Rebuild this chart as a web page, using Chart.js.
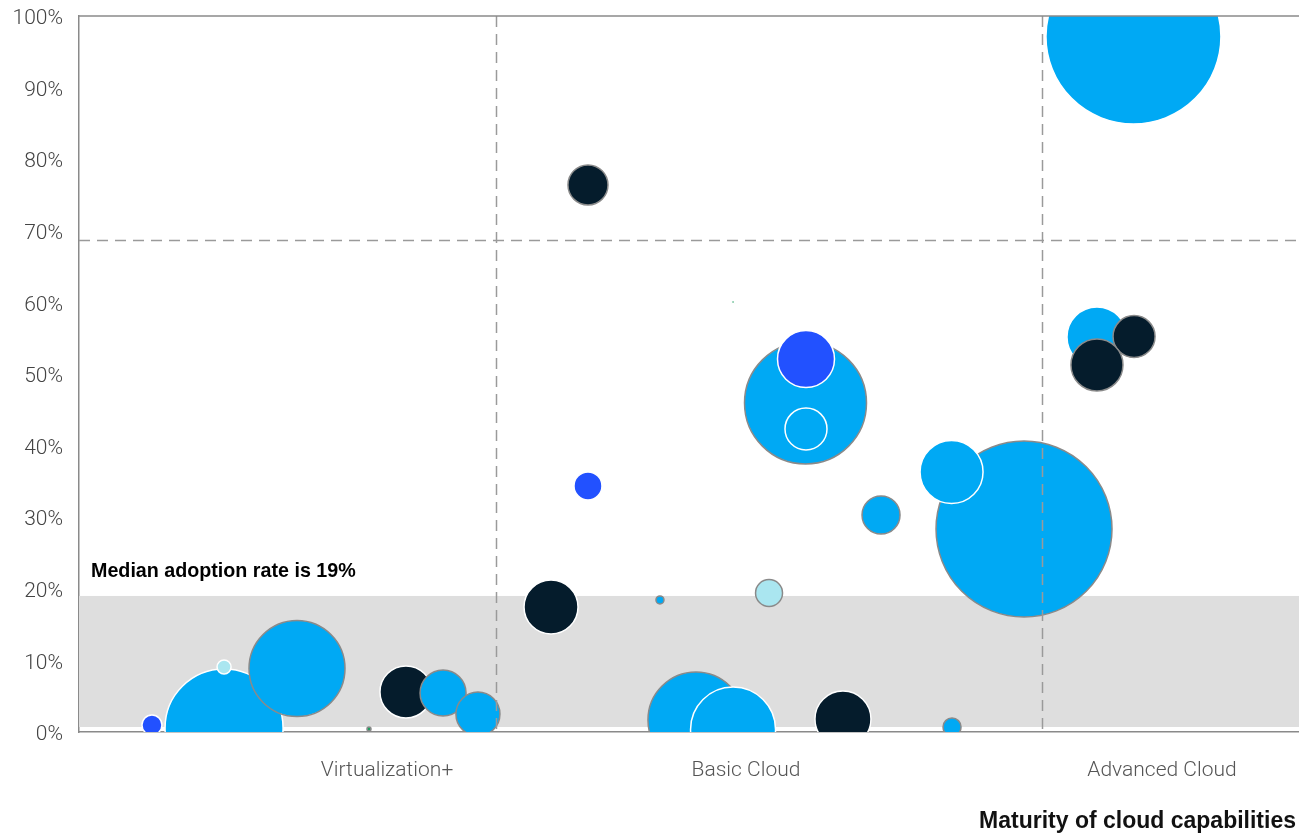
<!DOCTYPE html>
<html>
<head>
<meta charset="utf-8">
<script src="https://cdn.jsdelivr.net/npm/chart.js@4.4.1/dist/chart.umd.min.js"></script>
<style>
  html, body { margin: 0; padding: 0; background: #fff; }
  #wrap { width: 1299px; height: 834px; position: relative; }
</style>
</head>
<body>
<div id="wrap"><canvas id="c"></canvas></div>
<script>
// ---- Data ----
// maturity score (0-100 horizontal scale), adoption rate (%), bubble size, group, outlined flag
const maturity = [5.98, 11.89, 11.89, 17.87, 23.77, 26.8, 29.84, 32.7,
                  41.72, 41.72, 38.69, 47.62, 56.56, 50.57, 53.61, 62.62, 71.56,
                  59.55, 59.59, 59.59, 53.61, 65.74, 77.46, 71.52,
                  83.44, 86.48, 83.44, 86.43];
const adoption = [0.98, 0.56, 9.08, 8.87, 0.42, 5.59, 5.45, 2.51,
                  76.4, 34.36, 17.46, 18.44, 19.41, 1.68, 0.35, 1.82, 0.7,
                  45.95, 52.09, 42.32, 60.06, 30.31, 28.35, 36.31,
                  55.17, 55.24, 51.26, 97.14];
const bubbleSize = [10, 59, 7, 48, 2, 26, 23, 22,
                    20, 14, 27, 4, 13.5, 48, 42.5, 28, 9,
                    61, 28.5, 21, 1.5, 19, 88, 31.5,
                    30, 21, 26, 87.5];
const group = ['C', 'A', 'D', 'A', 'E', 'B', 'A', 'A',
               'B', 'C', 'B', 'A', 'D', 'A', 'A', 'B', 'A',
               'A', 'C', 'A', 'E', 'A', 'A', 'A',
               'A', 'B', 'B', 'A'];
const outlined = [0, 0, 0, 1, 1, 0, 1, 1,
                  1, 0, 0, 1, 1, 1, 0, 0, 1,
                  1, 0, 0, 0, 1, 1, 0,
                  0, 1, 1, 0];

const tickLabels = ['Virtualization+', 'Basic Cloud', 'Advanced Cloud'];
const tickPositions = [25.25, 54.67, 88.77];
const dividers = [34.18, 78.93];      // maturity thresholds
const highThreshold = 68.7;           // adoption threshold (%)
const medianAdoption = 19;            // median adoption rate (%)
const bandBottom = 0.7;
const yTicks = [0, 10, 20, 30, 40, 50, 60, 70, 80, 90, 100];

// ---- Styles ----
const groupColors = { A: '#00A9F4', B: '#051C2C', C: '#2251FF', D: '#AAE6F0', E: '#1E9E5E' };
const points = maturity.map((x, i) => ({ x: x, y: adoption[i], r: bubbleSize[i] }));

const overlay = {
  id: 'overlay',
  beforeDatasetsDraw(chart) {
    const { ctx, chartArea: a, scales: { y } } = chart;
    ctx.save();
    ctx.fillStyle = '#DEDEDE';
    const t = y.getPixelForValue(medianAdoption), b = y.getPixelForValue(bandBottom);
    ctx.fillRect(a.left, t, a.right - a.left, b - t);
    ctx.fillStyle = '#000';
    ctx.font = 'bold 19.7px "Liberation Sans", Arial, sans-serif';
    ctx.textBaseline = 'alphabetic';
    ctx.textAlign = 'left';
    ctx.fillText('Median adoption rate is ' + medianAdoption + '%', a.left + 12, t - 19);
    ctx.restore();
  },
  afterDatasetsDraw(chart) {
    const { ctx, chartArea: a, scales: { x, y } } = chart;
    ctx.save();
    ctx.strokeStyle = '#9a9a9a';
    ctx.lineWidth = 1.5;
    ctx.setLineDash([11, 7]);
    dividers.forEach(v => {
      const px = Math.round(x.getPixelForValue(v)) + 0.5;
      ctx.beginPath(); ctx.moveTo(px, a.top); ctx.lineTo(px, a.bottom); ctx.stroke();
    });
    const py = Math.round(y.getPixelForValue(highThreshold)) + 0.5;
    ctx.beginPath(); ctx.moveTo(a.left, py); ctx.lineTo(a.right, py); ctx.stroke();
    ctx.setLineDash([]);
    // top frame line
    ctx.strokeStyle = '#8a8a8a';
    ctx.lineWidth = 1.5;
    ctx.beginPath(); ctx.moveTo(a.left, a.top); ctx.lineTo(a.right, a.top); ctx.stroke();
    // axis title
    ctx.fillStyle = '#111';
    ctx.font = 'bold 23px "Liberation Sans", Arial, sans-serif';
    ctx.textAlign = 'right';
    ctx.textBaseline = 'middle';
    ctx.fillText('Maturity of cloud capabilities', 1296, 822);
    ctx.restore();
  }
};

new Chart(document.getElementById('c'), {
  type: 'bubble',
  data: {
    datasets: [{
      data: points,
      backgroundColor: group.map(g => groupColors[g]),
      borderColor: outlined.map(o => o ? '#8a8a8a' : '#ffffff'),
      borderWidth: 1.5,
      hoverBorderWidth: 1.5,
      hoverRadius: 0,
      clip: 0
    }]
  },
  options: {
    responsive: true,
    maintainAspectRatio: false,
    animation: false,
    events: [],
    layout: { autoPadding: false, padding: { top: 16, right: 0, bottom: 0, left: 0 } },
    plugins: { legend: { display: false }, tooltip: { enabled: false } },
    scales: {
      x: {
        type: 'linear', min: 0, max: 100,
        grid: { display: false, drawTicks: false },
        border: { display: true, color: '#8a8a8a', width: 1.5 },
        afterBuildTicks: s => { s.ticks = tickPositions.map(v => ({ value: v })); },
        afterFit: s => { s.height = 102; s.paddingLeft = 0; s.paddingRight = 0; },
        ticks: {
          autoSkip: false, maxRotation: 0, padding: 26,
          color: '#555',
          font: { family: 'Roboto, "Liberation Sans", sans-serif', size: 21, weight: '300' },
          callback: (v, i) => tickLabels[i]
        }
      },
      y: {
        type: 'linear', min: 0, max: 100,
        grid: { display: false, drawTicks: false },
        border: { display: true, color: '#8a8a8a', width: 1.5 },
        afterBuildTicks: s => { s.ticks = yTicks.map(v => ({ value: v })); },
        afterFit: s => { s.width = 79; s.paddingTop = 0; s.paddingBottom = 0; },
        ticks: {
          padding: 16, labelOffset: 3,
          color: '#444',
          font: { family: 'Roboto, "Liberation Sans", sans-serif', size: 21, weight: '300' },
          callback: v => v + '%'
        }
      }
    }
  },
  plugins: [overlay]
});
</script>
</body>
</html>
